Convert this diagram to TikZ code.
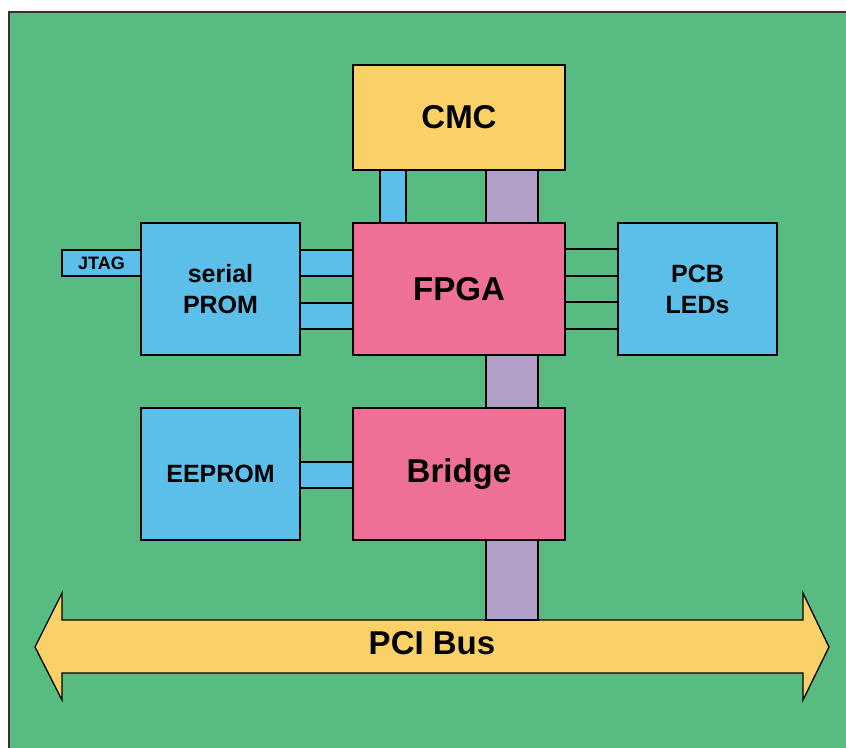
\documentclass[tikz,border=0pt]{standalone}
\usepackage{fontspec}
\setmainfont{Liberation Sans}
\usetikzlibrary{positioning}
\definecolor{board}{RGB}{87,187,130}
\definecolor{frame}{RGB}{50,50,50}
\definecolor{buscol}{RGB}{249,209,102}
\definecolor{memcol}{RGB}{91,191,234}
\definecolor{chipcol}{RGB}{238,112,150}
\definecolor{linkcol}{RGB}{177,159,200}

\begin{document}
\begin{tikzpicture}[x=1pt,y=-1pt]
  \useasboundingbox (0,0) rectangle (846,747);
  \draw[fill=board,draw=frame,line width=1.5pt] (9,12) rectangle (853,754);

  \tikzstyle{every node}=[align=center,draw,line width=1.3pt,inner sep=0pt,outer sep=0pt]
  \tikzstyle{big}=[font=\fontsize{33}{38}\selectfont\bfseries]
  \tikzstyle{small}=[font=\fontsize{25}{31}\selectfont\bfseries]
  \tikzstyle{chip}=[big,fill=chipcol,minimum width=212pt,minimum height=132pt]
  \tikzstyle{mem}=[small,fill=memcol,minimum width=159pt,minimum height=132pt]
  \tikzstyle{wide link}=[draw,line width=1.3pt,fill=linkcol]
  \tikzstyle{narrow link}=[draw,line width=1.3pt,fill=memcol]

  \node[big,fill=buscol,minimum width=212pt,minimum height=105pt] (cmc) at (459,117.5) {CMC};
  \node[chip] (fpga) at (459,289) {FPGA};
  \node[chip] (bridge) at (459,474) {Bridge};
  \node[mem] (prom) at (220.5,289) {serial\\PROM};
  \node[mem] (leds) at (697.5,289) {PCB\\LEDs};
  \node[mem] (eeprom) at (220.5,474) {EEPROM};
  \node[fill=memcol,minimum width=79pt,minimum height=26pt,
        font=\fontsize{18}{20}\selectfont\bfseries] (jtag) at (101.5,263) {JTAG};

  \draw[fill=buscol,line width=1.3pt]
    (35,647) -- (62,593) -- (62,620) -- (803,620) -- (803,593) -- (829,647)
    -- (803,700) -- (803,673) -- (62,673) -- (62,700) -- cycle;
  \node[big,draw=none] (pci) at (432,643) {PCI Bus};
  \coordinate (bustop) at (432,620);

  \draw[narrow link] ([xshift=-79pt]cmc.south) rectangle ([xshift=-53pt]fpga.north);
  \draw[wide link] ([xshift=27pt]cmc.south) rectangle ([xshift=79pt]fpga.north);
  \draw[wide link] ([xshift=27pt]fpga.south) rectangle ([xshift=79pt]bridge.north);
  \draw[wide link] ([xshift=27pt]bridge.south) rectangle ([xshift=79pt]bridge.south |- bustop);

  \foreach \from/\to/\a/\b in {prom/fpga/27/53,prom/fpga/80/106,eeprom/bridge/54/80}
    \draw[narrow link] ([yshift=-\a pt]\from.north east) rectangle ([yshift=-\b pt]\to.north west);

  \foreach \dy in {26,53,79,106} {
    \coordinate (l) at ([yshift=-\dy pt]fpga.north east);
    \draw[line width=2pt] (l) -- (l -| leds.west);
  }

\end{tikzpicture}
\end{document}
